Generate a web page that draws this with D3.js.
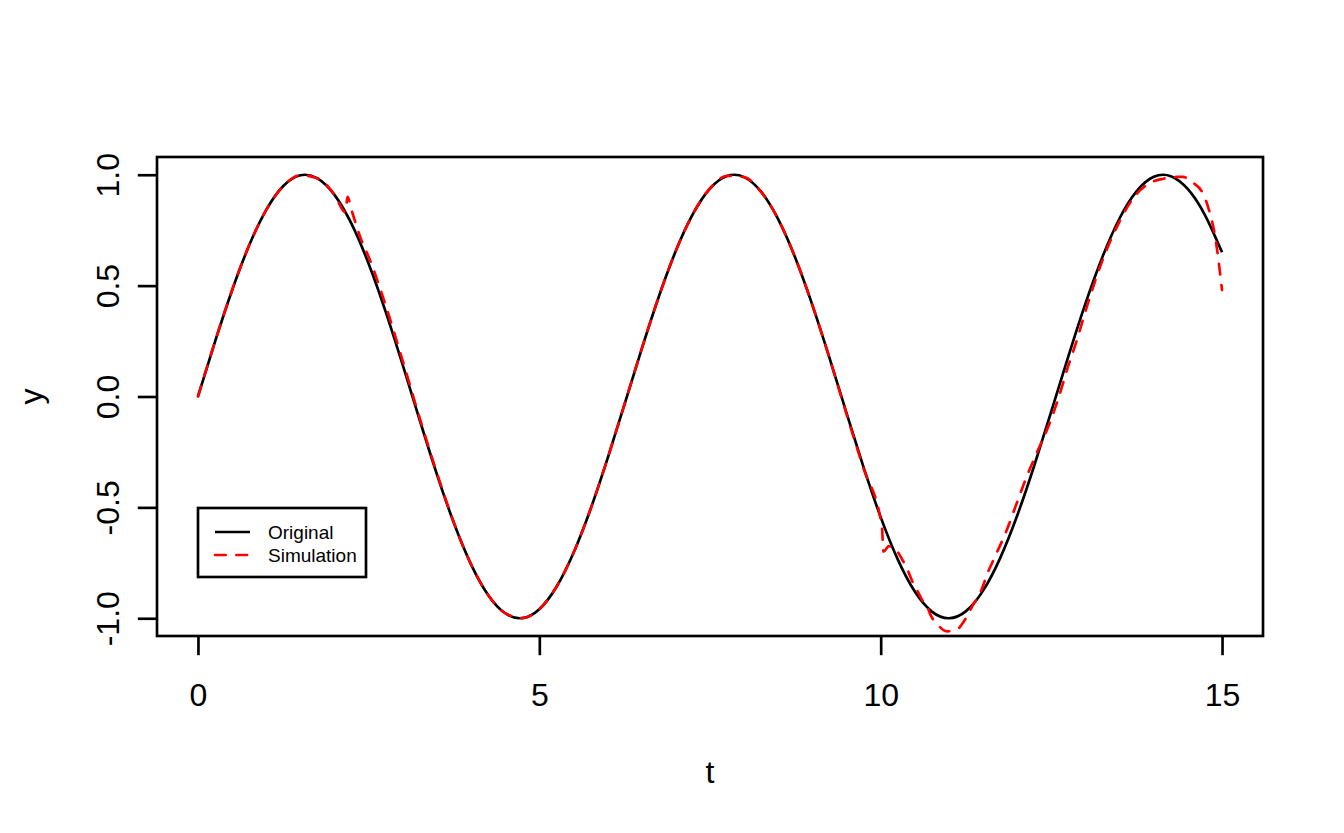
<!DOCTYPE html>
<html>
<head>
<meta charset="utf-8">
<script src="https://cdn.jsdelivr.net/npm/d3@7"></script>
<style>
  body { margin: 0; background: #fff; }
  svg { display: block; font-family: "Liberation Sans", Arial, sans-serif; }
</style>
</head>
<body>
<div id="chart"></div>
<script>
// Original curve
const tOriginal = [0, 0.25, 0.5, 0.75, 1, 1.25, 1.5, 1.75, 2, 2.25, 2.5, 2.75, 3, 3.25, 3.5, 3.75,
  4, 4.25, 4.5, 4.75, 5, 5.25, 5.5, 5.75, 6, 6.25, 6.5, 6.75, 7, 7.25, 7.5, 7.75,
  8, 8.25, 8.5, 8.75, 9, 9.25, 9.5, 9.75, 10, 10.25, 10.5, 10.75, 11, 11.25, 11.5, 11.75,
  12, 12.25, 12.5, 12.75, 13, 13.25, 13.5, 13.75, 14, 14.25, 14.5, 14.75, 15]
const yOriginal = [0, 0.2474, 0.4794, 0.6816, 0.8415, 0.949, 0.9975, 0.984, 0.9093, 0.7781, 0.5985, 0.3817, 0.1411, -0.1082, -0.3508, -0.5716,
  -0.7568, -0.895, -0.9775, -0.9993, -0.9589, -0.8589, -0.7055, -0.5083, -0.2794, -0.0332, 0.2151, 0.45, 0.657, 0.8231, 0.938, 0.9946,
  0.9894, 0.9227, 0.7985, 0.6247, 0.4121, 0.1739, -0.0751, -0.3195, -0.544, -0.7346, -0.8797, -0.9699, -1.0, -0.9678, -0.8755, -0.7287,
  -0.5366, -0.3111, -0.0663, 0.1823, 0.4202, 0.6306, 0.8038, 0.9259, 0.9906, 0.9936, 0.9349, 0.8181, 0.6503]

// Simulation curve (red dashed)
const tSimulation = [0, 0.25, 0.5, 0.75, 1, 1.25, 1.5, 1.75, 2, 2.16, 2.19, 2.25, 2.4, 2.5,
  2.75, 3, 3.25, 3.5, 3.75, 4, 4.25, 4.5, 4.75, 5, 5.25, 5.5, 5.75, 6, 6.25, 6.5, 6.75, 7, 7.25, 7.5, 7.75,
  8, 8.25, 8.5, 8.75, 9, 9.25, 9.5, 9.75, 10,
  10.02, 10.04, 10.12, 10.22, 10.33, 10.39, 10.47, 10.55, 10.6, 10.68, 10.73, 10.83, 10.97, 11.12, 11.19,
  11.28, 11.34, 11.43, 11.48, 11.57, 11.64, 11.85,
  12, 12.14, 12.29, 12.45, 12.58, 12.75, 12.88, 13, 13.25, 13.5, 13.7, 13.94, 14.14, 14.34, 14.43,
  14.57, 14.72, 14.82, 14.9, 14.95, 15]
const ySimulation = [0, 0.2474, 0.4794, 0.6816, 0.8415, 0.949, 0.9975, 0.984, 0.9093, 0.831, 0.90, 0.84, 0.70, 0.63,
  0.41, 0.16, -0.10, -0.345, -0.57, -0.757, -0.895, -0.977, -0.999, -0.959, -0.8589, -0.7055, -0.5083, -0.2794, -0.0332, 0.2151, 0.45, 0.657, 0.8231, 0.938, 0.9946,
  0.9894, 0.9227, 0.7985, 0.6247, 0.4121, 0.1739, -0.08, -0.325, -0.555,
  -0.59, -0.70, -0.675, -0.69, -0.743, -0.779, -0.838, -0.883, -0.914, -0.946, -0.985, -1.027, -1.059, -1.05, -1.027,
  -0.982, -0.946, -0.90, -0.869, -0.793, -0.745, -0.60,
  -0.475, -0.36, -0.252, -0.14, -0.03, 0.14, 0.26, 0.385, 0.615, 0.79, 0.895, 0.962, 0.982, 0.99, 0.99,
  0.965, 0.915, 0.829, 0.72, 0.61, 0.48]

const xTicks = [0, 5, 10, 15]
const yTicks = [-1.0, -0.5, 0.0, 0.5, 1.0]
const seriesNames = ["Original", "Simulation"]
const seriesColors = ["#000000", "#ff0000"]

const width = 1344
const height = 833
const margin = { top: 157, right: 81, bottom: 197, left: 157 }
const innerW = width - margin.left - margin.right
const innerH = height - margin.top - margin.bottom
const lineH = 38.4   // one R "line" of margin
const lw = 2.67

const svg = d3.select("#chart")
  .append("svg")
  .attr("width", width)
  .attr("height", height)

svg.append("rect").attr("width", width).attr("height", height).attr("fill", "#fff")

const g = svg.append("g")
  .attr("transform", `translate(${margin.left},${margin.top})`)

const x = d3.scaleLinear().domain([-0.6, 15.6]).range([0, innerW])
const y = d3.scaleLinear().domain([-1.08, 1.08]).range([innerH, 0])

const original = d3.zip(tOriginal, yOriginal)
const simulation = d3.zip(tSimulation, ySimulation)

// --- Lines ---
g.append("path")
  .datum(original)
  .attr("fill", "none")
  .attr("stroke", seriesColors[0])
  .attr("stroke-width", lw)
  .attr("stroke-linejoin", "round")
  .attr("d", d3.line().x(d => x(d[0])).y(d => y(d[1])).curve(d3.curveNatural))

g.append("path")
  .datum(simulation)
  .attr("fill", "none")
  .attr("stroke", seriesColors[1])
  .attr("stroke-width", lw)
  .attr("stroke-linecap", "round")
  .attr("stroke-linejoin", "round")
  .attr("stroke-dasharray", "10.7,10.7")
  .attr("d", d3.line().x(d => x(d[0])).y(d => y(d[1])).curve(d3.curveMonotoneX))

// --- Box ---
g.append("rect")
  .attr("width", innerW)
  .attr("height", innerH)
  .attr("fill", "none")
  .attr("stroke", "#000")
  .attr("stroke-width", lw)

// --- Axes ---
const xAxis = g.append("g")
  .attr("transform", `translate(0,${innerH})`)
  .call(d3.axisBottom(x).tickValues(xTicks).tickSize(lineH / 2).tickFormat(d3.format("d")))
xAxis.select(".domain").remove()
xAxis.selectAll(".tick line").attr("stroke", "#000").attr("stroke-width", lw)
xAxis.selectAll("text")
  .attr("y", 70)
  .attr("dy", null)
  .attr("fill", "#000")
  .attr("font-size", "32px")
  .attr("font-family", "Liberation Sans, Arial, sans-serif")

const yAxis = g.append("g")
  .call(d3.axisLeft(y).tickValues(yTicks).tickSize(lineH / 2).tickFormat(d3.format(".1f")))
yAxis.select(".domain").remove()
yAxis.selectAll(".tick line").attr("stroke", "#000").attr("stroke-width", lw)
yAxis.selectAll("text")
  .attr("transform", "rotate(-90)")
  .attr("x", 0)
  .attr("y", -lineH)
  .attr("dy", null)
  .attr("text-anchor", "middle")
  .attr("fill", "#000")
  .attr("font-size", "32px")
  .attr("font-family", "Liberation Sans, Arial, sans-serif")
  .text(d => d3.format(".1f")(d).replace("−", "-"))

// Axis titles
g.append("text")
  .attr("x", innerW / 2)
  .attr("y", innerH + 70 + 2 * lineH)
  .attr("text-anchor", "middle")
  .attr("font-size", "32px")
  .text("t")

g.append("text")
  .attr("transform", `translate(${-3 * lineH},${innerH / 2}) rotate(-90)`)
  .attr("text-anchor", "middle")
  .attr("font-size", "32px")
  .text("y")

// --- Legend ---
const legend = g.append("g")
  .attr("transform", `translate(${198 - margin.left},${508 - margin.top})`)

legend.append("rect")
  .attr("width", 168)
  .attr("height", 69)
  .attr("fill", "#fff")
  .attr("stroke", "#000")
  .attr("stroke-width", lw)

seriesNames.forEach((name, i) => {
  const ly = 24 + i * 23
  legend.append("line")
    .attr("x1", 17).attr("x2", 52)
    .attr("y1", ly).attr("y2", ly)
    .attr("stroke", seriesColors[i])
    .attr("stroke-width", lw)
    .attr("stroke-dasharray", i === 1 ? "10.7,10.7" : null)
    .attr("stroke-linecap", i === 1 ? "round" : "butt")
  legend.append("text")
    .attr("x", 70)
    .attr("y", ly)
    .attr("dy", "0.35em")
    .attr("font-size", "19px")
    .text(name)
})
</script>
</body>
</html>
